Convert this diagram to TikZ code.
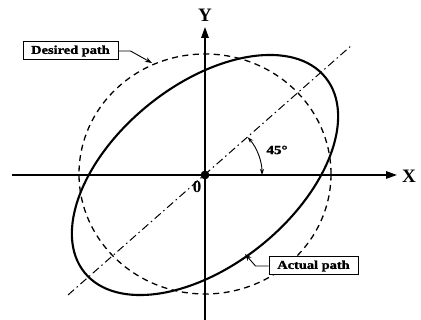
\documentclass[tikz,border=0pt]{standalone}
\usepackage{fontspec}
\setmainfont{Liberation Serif}
\newfontfamily\labfont[FakeStretch=1.2,FakeBold=1.5]{Liberation Serif Bold}
\usetikzlibrary{arrows.meta,calc}
\begin{document}
\begin{tikzpicture}[x=1pt,y=1pt,
  axis/.style={line width=1.5pt,-{Triangle[length=11pt,width=7.5pt]}},
  desired/.style={line width=1.3pt,dash pattern=on 6pt off 4.5pt},
  actual/.style={line width=2.1pt},
  centerline/.style={line width=1pt,dash pattern=on 8pt off 3.5pt on 1.5pt off 3.5pt},
  tag/.style={draw,fill=white,line width=1pt,inner sep=0pt,minimum height=18pt,font=\labfont\fontsize{12}{14}\selectfont},
  pointer/.style={line width=0.9pt,-{Stealth[length=7pt,width=5pt]}},
  big/.style={font=\bfseries\fontsize{19}{21}\selectfont,inner sep=0pt}]
\useasboundingbox (0,0) rectangle (421,320);
\coordinate (O) at (205,145);
% axes
\coordinate (xs) at (12,145);
\coordinate (xe) at (397,145);
\coordinate (ys) at (205,0);
\coordinate (ye) at (205,293);
\draw[axis] (xs) -- (xe);
\draw[axis] (ys) -- (ye);
\node[big] (xl) at (409,144) {X};
\node[big] (yl) at (205,305) {Y};
% 45 degree centre line
\coordinate (ll) at (68,25);
\coordinate (ur) at (352,275);
\draw[centerline] (ll) -- (ur);
% desired path (dashed circle)
\draw[desired] (205,146) ellipse [x radius=126, y radius=120];
% actual path (rotated ellipse)
\draw[actual,rotate around={39:(O)}] (O) ellipse [x radius=155, y radius=90];
% origin
\fill (O) circle (4.4);
\node[big,font=\bfseries\fontsize{17}{19}\selectfont] (zero) at (197,133) {0};
% angle
\coordinate (a0) at ($(O)+(0:57)$);
\draw[line width=0.9pt,{Stealth[length=6pt,width=4pt]}-{Stealth[length=6pt,width=4pt]}] (a0) arc[start angle=0,end angle=41.5,radius=57];
\node[font=\labfont\fontsize{12.5}{14}\selectfont,inner sep=0pt] (ang) at (277,170) {45\textdegree};
% labels
\node[tag,minimum width=95pt] (dp) at (70.5,269) {Desired path};
\coordinate (dtip) at (152,257);
\draw[pointer] (dp.east) -- ++(12,0) -- (dtip);
\node[tag,minimum width=89pt] (ap) at (313.5,54) {Actual path};
\coordinate (atip) at (245,66);
\draw[pointer] (ap.west) -- ++(-13,0) -- (atip);
\end{tikzpicture}
\end{document}
